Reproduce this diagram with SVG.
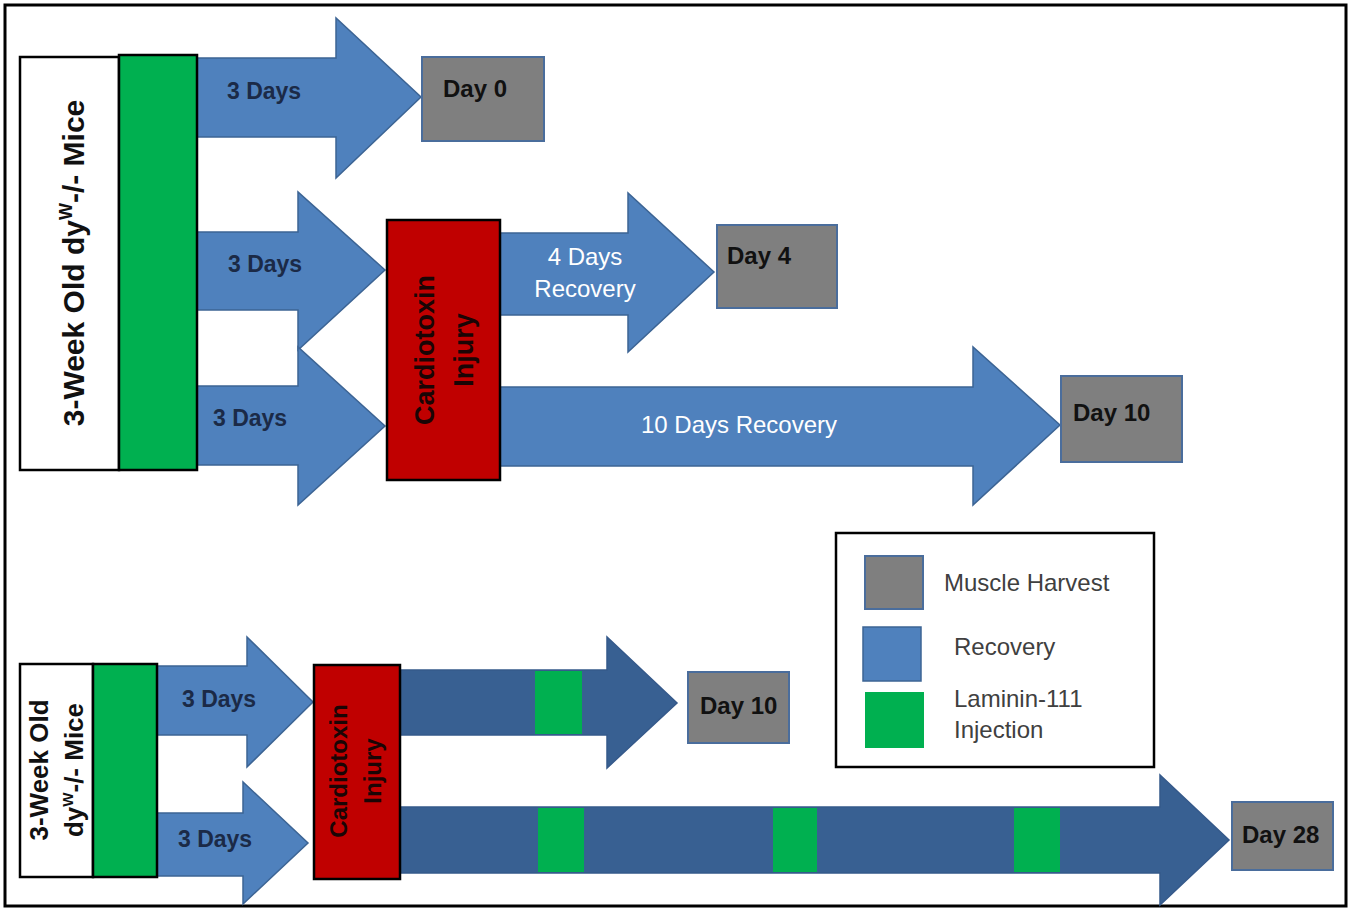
<svg xmlns="http://www.w3.org/2000/svg" width="1351" height="909" viewBox="0 0 1351 909">
<style>
.frame{fill:#fff;stroke:#000;stroke-width:3}
.mouse{fill:#fff;stroke:#000;stroke-width:2.5}
.green{fill:#00b050;stroke:#000;stroke-width:2.5}
.ctx{fill:#c00000;stroke:#000;stroke-width:2.5}
.arrow{fill:#4f81bd;stroke:#3c6494;stroke-width:1.5}
.darrow{fill:#386092;stroke:#35598a;stroke-width:1.5}
.inj{fill:#00b050}
.day{fill:#7f7f7f;stroke:#4a6d9c;stroke-width:2}
.lbox{fill:#fff;stroke:#000;stroke-width:2.5}
.t{font-family:"Liberation Sans",Arial,sans-serif}
.days{font-size:23px;font-weight:bold;fill:#1b2a47}
.dayt{font-size:24px;font-weight:bold;fill:#111}
.white{font-size:24px;fill:#fff}
.big{font-weight:bold;fill:#111}
.ctxt{font-weight:bold;fill:#1a0505}
.leg{font-size:24px;fill:#404040}
</style>
<rect class="frame" x="5" y="5" width="1341" height="901"/>

<g id="connectors">
<path class="arrow" d="M197,58 H336 V18 L421,97 L336,178 V137 H197 Z"/>
<path class="arrow" d="M197,232 H298 V192 L385,270 L298,350 V310 H197 Z"/>
<path class="arrow" d="M197,386 H298 V347 L385,426 L298,505 V465 H197 Z"/>
<path class="arrow" d="M500,233 H628 V193 L714,272 L628,352 V315 H500 Z"/>
<path class="arrow" d="M500,387 H973 V347 L1060,425 L973,505 V466 H500 Z"/>
<path class="arrow" d="M157,666 H247 V637 L313,702 L247,767 V735 H157 Z"/>
<path class="arrow" d="M157,813 H243 V782 L308,843 L243,904 V876 H157 Z"/>
<path class="darrow" d="M400,670 H607 V637 L677,703 L607,768 V735 H400 Z"/>
<rect class="inj" x="535" y="671" width="47" height="63"/>
<path class="darrow" d="M400,807 H1160 V775 L1229,840 L1160,905 V873 H400 Z"/>
<rect class="inj" x="538" y="808" width="46" height="64"/>
<rect class="inj" x="773" y="808" width="44" height="64"/>
<rect class="inj" x="1014" y="808" width="46" height="64"/>
<text class="t days" x="227" y="99">3 Days</text>
<text class="t days" x="228" y="272">3 Days</text>
<text class="t days" x="213" y="426">3 Days</text>
<text class="t white" x="585" y="265" text-anchor="middle">4 Days</text>
<text class="t white" x="585" y="297" text-anchor="middle">Recovery</text>
<text class="t white" x="739" y="433" text-anchor="middle">10 Days Recovery</text>
<text class="t days" x="182" y="707">3 Days</text>
<text class="t days" x="178" y="847">3 Days</text>
</g>

<g id="mice-top">
<rect class="mouse" x="20" y="57" width="99" height="413"/>
<text class="t big" font-size="30" transform="translate(84,263) rotate(-90)" text-anchor="middle">3-Week Old dy<tspan font-size="18" dy="-12">W</tspan><tspan dy="12">-/- Mice</tspan></text>
</g>
<g id="laminin-top">
<rect class="green" x="119" y="55" width="78" height="415"/>
</g>
<g id="cardiotoxin-top">
<rect class="ctx" x="387" y="220" width="113" height="260"/>
<text class="t ctxt" font-size="27" transform="translate(434,350) rotate(-90)" text-anchor="middle">Cardiotoxin</text>
<text class="t ctxt" font-size="27" transform="translate(473,350) rotate(-90)" text-anchor="middle">Injury</text>
</g>
<g id="day0">
<rect class="day" x="422" y="57" width="122" height="84"/>
<text class="t dayt" x="443" y="97">Day 0</text>
</g>
<g id="day4">
<rect class="day" x="717" y="225" width="120" height="83"/>
<text class="t dayt" x="727" y="264">Day 4</text>
</g>
<g id="day10-top">
<rect class="day" x="1061" y="376" width="121" height="86"/>
<text class="t dayt" x="1073" y="421">Day 10</text>
</g>

<g id="legend">
<rect class="lbox" x="836" y="533" width="318" height="234"/>
<rect class="day" x="865" y="556" width="58" height="53" stroke="#3d5c8a"/>
<text class="t leg" x="944" y="591">Muscle Harvest</text>
<rect class="arrow" x="863" y="627" width="58" height="54"/>
<text class="t leg" x="954" y="655">Recovery</text>
<rect class="inj" x="865" y="692" width="59" height="56"/>
<text class="t leg" x="954" y="707">Laminin-111</text>
<text class="t leg" x="954" y="738">Injection</text>
</g>

<g id="mice-bottom">
<rect class="mouse" x="20" y="664" width="73" height="213"/>
<text class="t big" font-size="26" transform="translate(48,770) rotate(-90)" text-anchor="middle">3-Week Old</text>
<text class="t big" font-size="26" transform="translate(83,770) rotate(-90)" text-anchor="middle">dy<tspan font-size="15" dy="-10">W</tspan><tspan dy="10">-/- Mice</tspan></text>
</g>
<g id="laminin-bottom">
<rect class="green" x="93" y="664" width="64" height="213"/>
</g>
<g id="cardiotoxin-bottom">
<rect class="ctx" x="314" y="665" width="86" height="214"/>
<text class="t ctxt" font-size="24" transform="translate(347,771) rotate(-90)" text-anchor="middle">Cardiotoxin</text>
<text class="t ctxt" font-size="24" transform="translate(381,771) rotate(-90)" text-anchor="middle">Injury</text>
</g>
<g id="day10-bottom">
<rect class="day" x="688" y="672" width="101" height="71"/>
<text class="t dayt" x="700" y="714">Day 10</text>
</g>
<g id="day28">
<rect class="day" x="1232" y="802" width="101" height="68"/>
<text class="t dayt" x="1242" y="843">Day 28</text>
</g>
</svg>
